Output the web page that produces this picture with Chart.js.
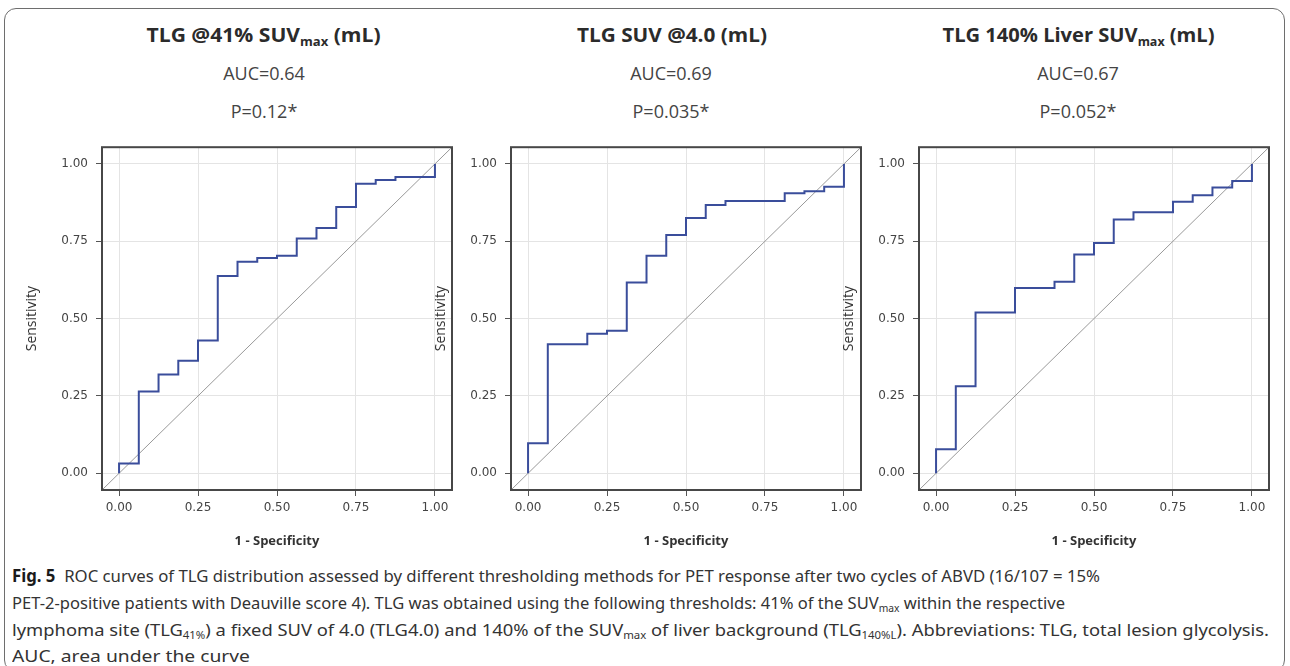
<!DOCTYPE html>
<html>
<head>
<meta charset="utf-8">
<script src="https://cdn.jsdelivr.net/npm/chart.js@4/dist/chart.umd.min.js"></script>
<style>
  html, body { margin: 0; padding: 0; }
  body { width: 1290px; height: 666px; background: #fff; position: relative; overflow: hidden; }
  .card { position: absolute; left: 4px; top: 8px; width: 1281px; height: 664px; border: 1.5px solid #6e6e6e; border-radius: 12px; box-sizing: border-box; }
  .c { position: absolute; white-space: nowrap; color: #333; line-height: 1; }
  .title { font-family: "Open Sans", sans-serif; font-weight: 700; font-size: 19px; color: #2b2b2b; }
  .sub { font-family: "Open Sans", sans-serif; font-weight: 400; font-size: 18px; color: #444; }
  .title sub, .cap sub { font-size: 62%; vertical-align: -0.3em; line-height: 0; }
  .cap { position: absolute; left: 12px; white-space: nowrap; font-family: "Noto Sans", sans-serif; font-size: 17px; color: #333; line-height: 1; transform-origin: 0 50%; }
  .cap b { color: #1a1a1a; }
  canvas { position: absolute; }
</style>
</head>
<body>
<div class="card"></div>

<div class="c title" data-cx="264" data-w="234" style="top:26px">TLG @41% SUV<sub>max</sub> (mL)</div>
<div class="c sub" data-cx="264" style="top:64px">AUC=0.64</div>
<div class="c sub" data-cx="264" style="top:102px">P=0.12*</div>

<div class="c title" data-cx="672" data-w="190" style="top:26px">TLG SUV @4.0 (mL)</div>
<div class="c sub" data-cx="671" style="top:64px">AUC=0.69</div>
<div class="c sub" data-cx="671" style="top:102px">P=0.035*</div>

<div class="c title" data-cx="1079" data-w="272" style="top:26px">TLG 140% Liver SUV<sub>max</sub> (mL)</div>
<div class="c sub" data-cx="1078" style="top:64px">AUC=0.67</div>
<div class="c sub" data-cx="1078" style="top:102px">P=0.052*</div>

<canvas id="c1" width="434" height="423" style="left:22px;top:132px"></canvas>
<canvas id="c2" width="434" height="423" style="left:431px;top:132px"></canvas>
<canvas id="c3" width="434" height="423" style="left:839px;top:132px"></canvas>

<div class="cap" data-w="1088" style="top:567px"><b>Fig. 5</b>&nbsp; ROC curves of TLG distribution assessed by different thresholding methods for PET response after two cycles of ABVD (16/107 = 15%</div>
<div class="cap" data-w="1053" style="top:594px">PET-2-positive patients with Deauville score 4). TLG was obtained using the following thresholds: 41% of the SUV<sub>max</sub> within the respective</div>
<div class="cap" data-w="1257" style="top:621px">lymphoma site (TLG<sub>41%</sub>) a fixed SUV of 4.0 (TLG4.0) and 140% of the SUV<sub>max</sub> of liver background (TLG<sub>140%L</sub>). Abbreviations: TLG, total lesion glycolysis.</div>
<div class="cap" data-w="238" style="top:647px">AUC, area under the curve</div>

<script>
// ---------- DATA ----------
const tickValues = [0, 0.25, 0.5, 0.75, 1.0];
const axisMin = -0.054;
const axisMax = 1.054;
const refLine = [axisMin, axisMax];

// Panel 1: TLG @41% SUVmax
const fpr41 = [0, 0, 0.0625, 0.125, 0.1875, 0.25, 0.3125, 0.375, 0.4375, 0.5, 0.5625, 0.625, 0.6875, 0.75, 0.8125, 0.875, 1.0];
const tpr41 = [0, 0.032, 0.264, 0.319, 0.364, 0.429, 0.638, 0.684, 0.696, 0.703, 0.759, 0.793, 0.861, 0.936, 0.948, 0.958, 1.0];

// Panel 2: TLG SUV @4.0
const fpr40 = [0, 0, 0.0625, 0.1875, 0.25, 0.3125, 0.375, 0.4375, 0.5, 0.5625, 0.625, 0.8125, 0.875, 0.9375, 1.0];
const tpr40 = [0, 0.097, 0.417, 0.451, 0.461, 0.617, 0.703, 0.770, 0.825, 0.867, 0.880, 0.905, 0.912, 0.926, 1.0];

// Panel 3: TLG 140% Liver SUVmax
const fpr140 = [0, 0, 0.0625, 0.125, 0.25, 0.375, 0.4375, 0.5, 0.5625, 0.625, 0.75, 0.8125, 0.875, 0.9375, 1.0];
const tpr140 = [0, 0.078, 0.281, 0.520, 0.599, 0.619, 0.707, 0.744, 0.820, 0.844, 0.878, 0.899, 0.924, 0.945, 1.0];

const xTitle = '1 - Specificity';
const yTitle = 'Sensitivity';

// ---------- LAYOUT OF TEXT ----------
function fitText() {
  document.querySelectorAll('.c').forEach(el => {
    const cx = +el.dataset.cx;
    const w = el.getBoundingClientRect().width;
    const target = el.dataset.w ? +el.dataset.w : w;
    const s = target / w;
    el.style.left = (cx - w / 2) + 'px';
    el.style.transform = 'scaleX(' + s + ')';
  });
  document.querySelectorAll('.cap').forEach(el => {
    el.style.transform = 'none';
    const w = el.getBoundingClientRect().width;
    el.style.transform = 'scaleX(' + (+el.dataset.w / w) + ')';
  });
}

// ---------- CHARTS ----------
const framePlugin = {
  id: 'frame',
  afterDatasetsDraw(chart) {
    const { ctx, chartArea: a } = chart;
    ctx.save();
    ctx.strokeStyle = '#474747';
    ctx.lineWidth = 2;
    ctx.strokeRect(a.left, a.top, a.right - a.left, a.bottom - a.top);
    ctx.restore();
  }
};

function makeChart(id, fpr, tpr) {
  const roc = fpr.map((x, i) => ({ x: x, y: tpr[i] }));
  const diag = refLine.map(v => ({ x: v, y: v }));
  const setTicks = s => { s.ticks = tickValues.map(v => ({ value: v })); };
  return new Chart(document.getElementById(id), {
    type: 'scatter',
    data: {
      datasets: [
        { data: diag, showLine: true, borderColor: '#999999', borderWidth: 1, pointRadius: 0, order: 2 },
        { data: roc, showLine: true, stepped: 'before', borderColor: '#3a4d9b', borderWidth: 2, pointRadius: 0, order: 1 }
      ]
    },
    options: {
      responsive: false,
      animation: false,
      devicePixelRatio: 1,
      layout: { padding: { top: 10, right: 4, left: 0, bottom: 0 } },
      plugins: { legend: { display: false }, tooltip: { enabled: false } },
      scales: {
        x: {
          type: 'linear', min: axisMin, max: axisMax,
          afterBuildTicks: setTicks,
          afterFit: s => { s.height = 65; },
          border: { display: false },
          grid: { color: '#e4e4e4', tickColor: '#555', tickLength: 6, lineWidth: 1 },
          ticks: { padding: 5, color: '#444', maxRotation: 0, font: { family: 'DejaVu Sans', size: 12 }, callback: v => v.toFixed(2) },
          title: { display: true, text: xTitle, color: '#333', font: { family: 'Open Sans', weight: 'bold', size: 13 }, padding: { top: 0, bottom: 6 } }
        },
        y: {
          type: 'linear', min: axisMin, max: axisMax,
          afterBuildTicks: setTicks,
          afterFit: s => { s.width = 80; },
          border: { display: false },
          grid: { color: '#e4e4e4', tickColor: '#555', tickLength: 6, lineWidth: 1 },
          ticks: { padding: 8, color: '#444', font: { family: 'DejaVu Sans', size: 12 }, callback: v => v.toFixed(2) },
          title: { display: true, text: yTitle, color: '#333', font: { family: 'Open Sans', size: 14 }, padding: { top: 2, bottom: 0 } }
        }
      }
    },
    plugins: [framePlugin]
  });
}

function init() {
  fitText();
  makeChart('c1', fpr41, tpr41);
  makeChart('c2', fpr40, tpr40);
  makeChart('c3', fpr140, tpr140);
}
if (document.fonts && document.fonts.ready) { document.fonts.ready.then(init); } else { init(); }
</script>
</body>
</html>
